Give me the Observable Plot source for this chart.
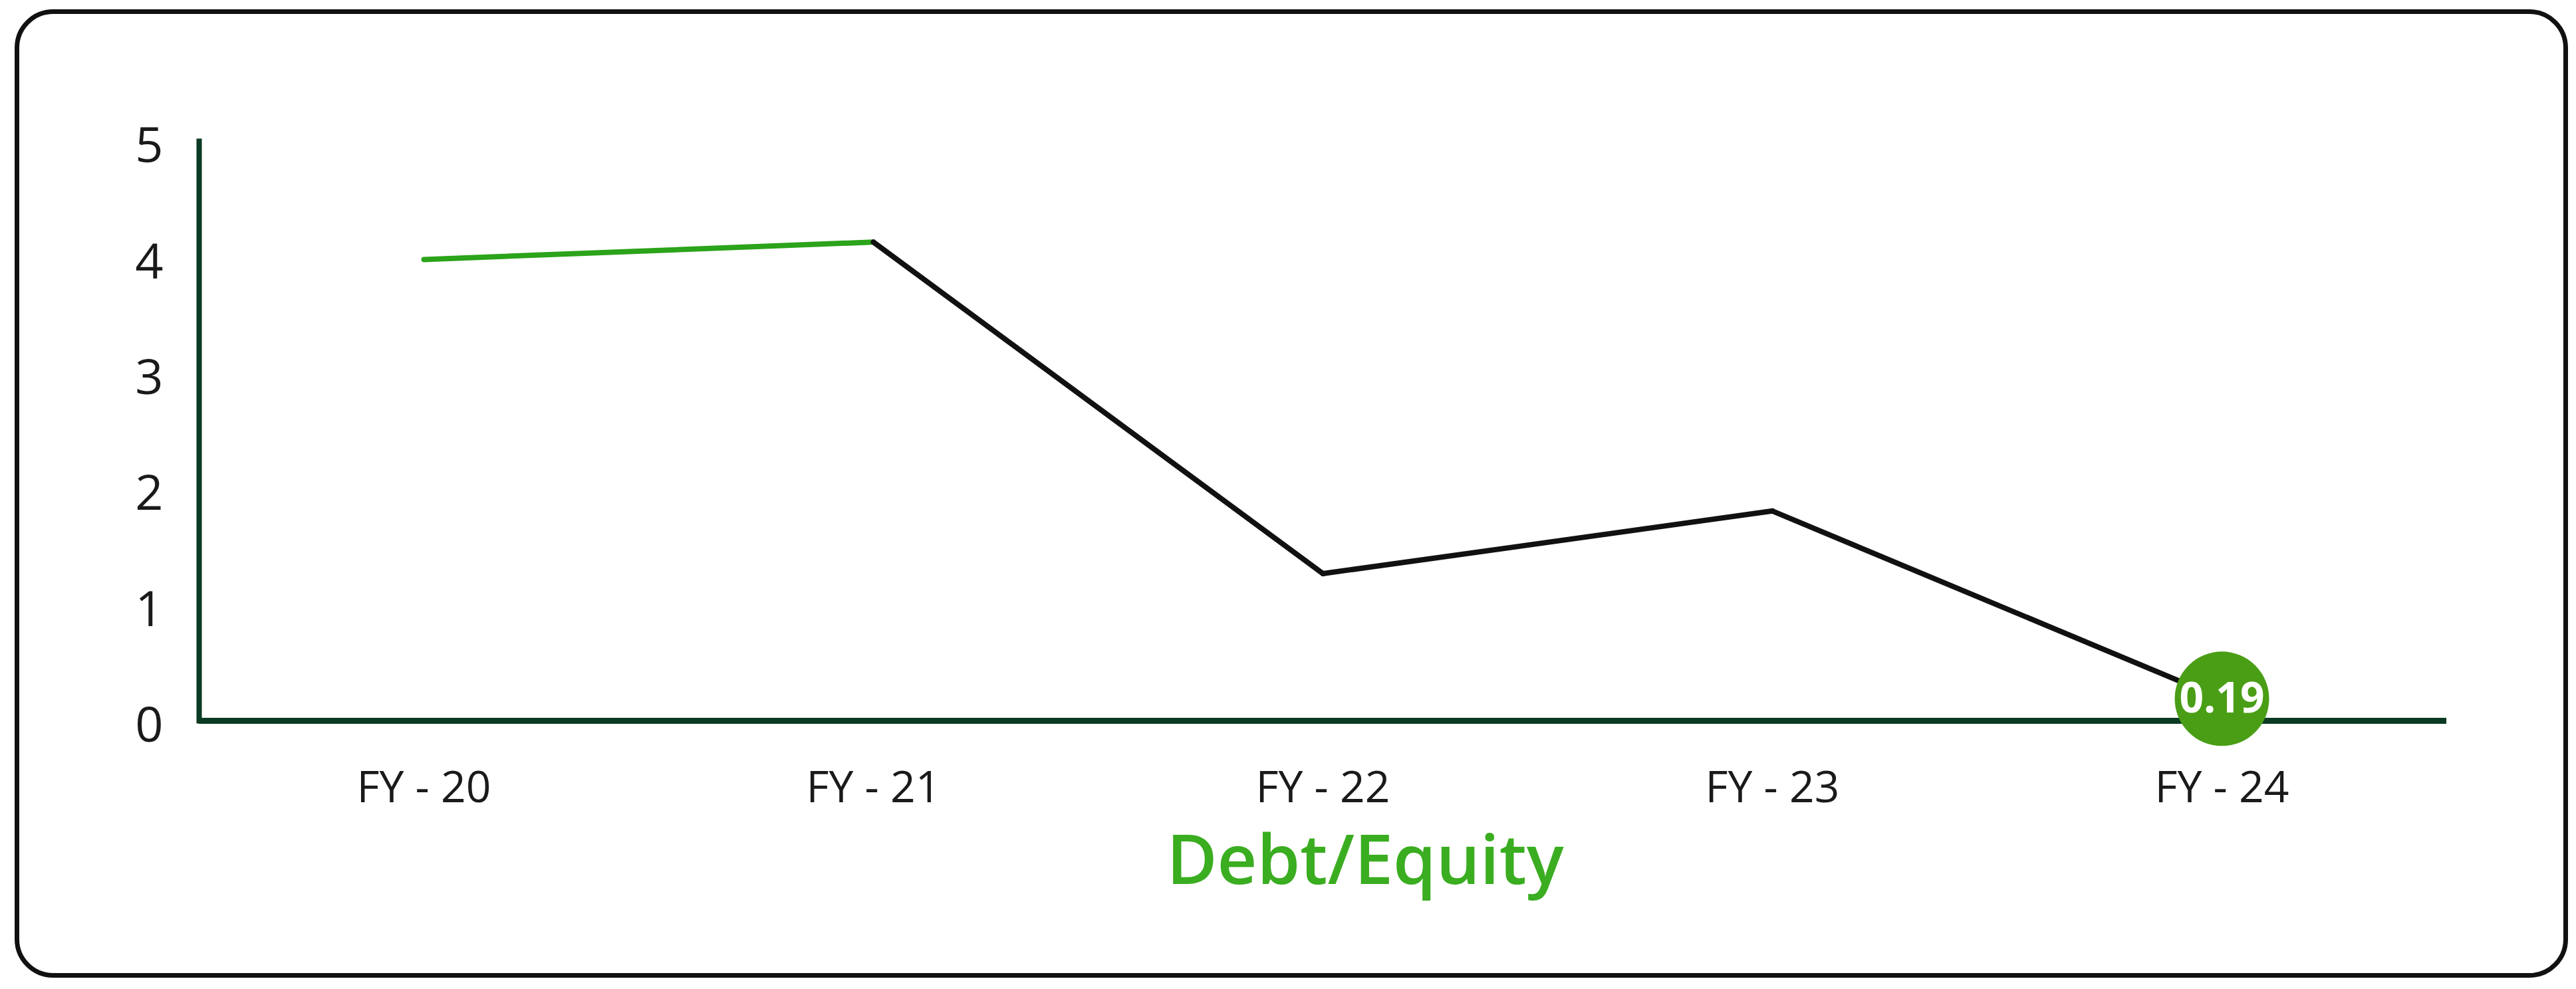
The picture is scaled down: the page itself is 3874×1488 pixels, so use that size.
<!DOCTYPE html>
<html>
<head>
<meta charset="utf-8">
<script src="https://cdn.jsdelivr.net/npm/d3@7"></script>
<script src="https://cdn.jsdelivr.net/npm/@observablehq/plot@0.6"></script>
<style>
  html, body { margin: 0; padding: 0; background: #ffffff; width: 3874px; height: 1488px; overflow: hidden; }
  #card { position: absolute; left: 22px; top: 14px; width: 3840px; height: 1457px; border: 7px solid #111; border-radius: 58px; box-sizing: border-box; }
  #chart { position: absolute; left: 0; top: 0; }
  #title { position: absolute; left: 2053px; top: 1238px; transform: translateX(-50%); white-space: nowrap;
           font-family: "Open Sans", sans-serif; font-weight: 600; font-size: 104px; line-height: 1; color: #3aad20; }
</style>
</head>
<body>
<div id="card"></div>
<div id="chart"></div>
<div id="title">Debt/Equity</div>
<script>
const categories = ["FY - 20", "FY - 21", "FY - 22", "FY - 23", "FY - 24"];
const debtEquity = [3.98, 4.13, 1.27, 1.81, 0.19];
const yTicks = [0, 1, 2, 3, 4, 5];

const GREEN = "#2ba31a";
const BLACK = "#111111";
const AXIS = "#0b3a22";
const DOT = "#4a9e16";

const points = categories.map((c, i) => ({ x: c, v: debtEquity[i] }));
const links = categories.slice(0, -1).map((c, i) => ({
  x1: c, y1: debtEquity[i], x2: categories[i + 1], y2: debtEquity[i + 1], i
}));
const last = [points[points.length - 1]];

const chart = Plot.plot({
  width: 3874,
  height: 1250,
  marginLeft: 299,
  marginRight: 195,
  marginTop: 212,
  marginBottom: 166,
  style: { background: "transparent", fontFamily: "'Open Sans', sans-serif", color: "#1a1a1a", overflow: "visible" },
  x: { type: "point", domain: categories, padding: 0.5 },
  y: { domain: [0, 5] },
  color: { type: "identity" },
  marks: [
    Plot.axisY({ ticks: yTicks, tickSize: 0, tickPadding: 54, fontSize: 74, dy: 8, label: null, tickFormat: d => String(d) }),
    Plot.axisX({ tickSize: 0, tickPadding: 76, fontSize: 66, label: null }),
    Plot.frame({ anchor: "left", stroke: AXIS, strokeWidth: 8 }),
    Plot.ruleY([0], { stroke: AXIS, strokeWidth: 9 }),
    Plot.link(links, {
      x1: "x1", y1: "y1", x2: "x2", y2: "y2",
      stroke: d => d.i === 0 ? GREEN : BLACK,
      strokeWidth: 8, strokeLinecap: "round"
    }),
    Plot.dot(last, { x: "x", y: "v", r: 71, fill: DOT }),
    Plot.text(last, { x: "x", y: "v", text: d => d.v.toFixed(2), fill: "#ffffff", fontSize: 64, fontWeight: 700 })
  ]
});
document.getElementById("chart").appendChild(chart);
</script>
</body>
</html>
